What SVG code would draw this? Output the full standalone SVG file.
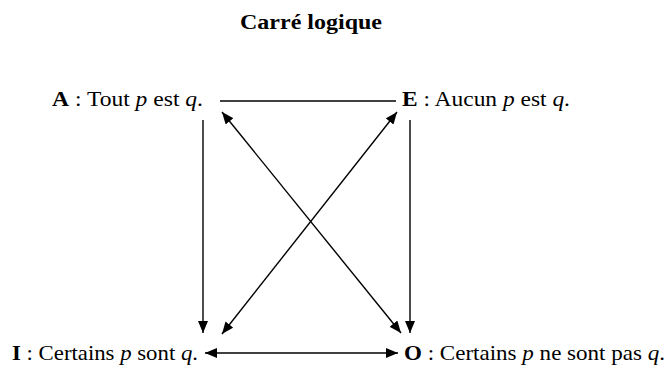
<svg xmlns="http://www.w3.org/2000/svg" width="672" height="368" viewBox="0 0 672 368">
<defs>
<marker id="ah" viewBox="0 0 12 10" refX="12" refY="5" markerWidth="12" markerHeight="10" markerUnits="userSpaceOnUse" orient="auto-start-reverse">
<path d="M0,0 L12,5 L0,10 z" fill="#000"/>
</marker>
<style>
.lbl{font-family:"Liberation Serif",serif;font-size:21px;fill:#000}
.b{font-weight:bold}
.i{font-style:italic}
.title{font-family:"Liberation Serif",serif;font-size:20px;font-weight:bold;fill:#000}
.c{stroke:#000;stroke-width:1.4;fill:none}
</style>
</defs>
<rect width="672" height="368" fill="#fff"/>
<text class="title" x="240" y="29" textLength="142" lengthAdjust="spacingAndGlyphs">Carré logique</text>
<g id="nodeA"><text class="lbl" x="52" y="106" textLength="151" lengthAdjust="spacingAndGlyphs"><tspan class="b">A</tspan> : Tout <tspan class="i">p</tspan> est <tspan class="i">q</tspan>.</text></g>
<g id="nodeE"><text class="lbl" x="402" y="106" textLength="168" lengthAdjust="spacingAndGlyphs"><tspan class="b">E</tspan> : Aucun <tspan class="i">p</tspan> est <tspan class="i">q</tspan>.</text></g>
<g id="nodeI"><text class="lbl" x="12" y="360" textLength="186" lengthAdjust="spacingAndGlyphs"><tspan class="b">I</tspan> : Certains <tspan class="i">p</tspan> sont <tspan class="i">q</tspan>.</text></g>
<g id="nodeO"><text class="lbl" x="404" y="360" textLength="261" lengthAdjust="spacingAndGlyphs"><tspan class="b">O</tspan> : Certains <tspan class="i">p</tspan> ne sont pas <tspan class="i">q</tspan>.</text></g>
<g id="connectors">
<line class="c" x1="220" y1="101" x2="396" y2="101"/>
<line class="c" x1="203" y1="120" x2="203" y2="333" marker-end="url(#ah)"/>
<line class="c" x1="410" y1="120" x2="410" y2="333" marker-end="url(#ah)"/>
<line class="c" x1="222" y1="112" x2="401" y2="333" marker-start="url(#ah)" marker-end="url(#ah)"/>
<line class="c" x1="397" y1="112" x2="222" y2="334" marker-start="url(#ah)" marker-end="url(#ah)"/>
<line class="c" x1="205" y1="353" x2="398" y2="353" marker-start="url(#ah)" marker-end="url(#ah)"/>
</g>
</svg>
